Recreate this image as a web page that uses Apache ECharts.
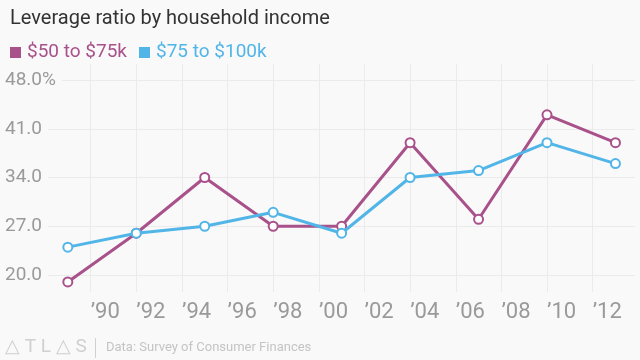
<!DOCTYPE html>
<html>
<head>
<meta charset="utf-8">
<script src="https://cdn.jsdelivr.net/npm/echarts@6/dist/echarts.min.js"></script>
<style>
  html, body { margin: 0; padding: 0; background: #f9f9f9; }
  #chart { width: 640px; height: 360px; }
</style>
</head>
<body>
<div id="chart"></div>
<script>
var years = [1989, 1992, 1995, 1998, 2001, 2004, 2007, 2010, 2013];
var series50to75 = [19, 26, 34, 27, 27, 39, 28, 43, 39];
var series75to100 = [24, 26, 27, 29, 26, 34, 35, 39, 36];
var seriesNames = ['$50 to $75k', '$75 to $100k'];
var yTicks = [20, 27, 34, 41, 48];
var yTickLabels = ['20.0', '27.0', '34.0', '41.0', '48.0%'];
var xTicks = [1990, 1992, 1994, 1996, 1998, 2000, 2002, 2004, 2006, 2008, 2010, 2012];
var xTickLabels = ['\u201990', '\u201992', '\u201994', '\u201996', '\u201998', '\u201900', '\u201902', '\u201904', '\u201906', '\u201908', '\u201910', '\u201912'];

var PURPLE = '#a8518a';
var BLUE = '#51b5e8';
var FONT = 'Roboto, "Noto Sans", sans-serif';

function pairs(ys) {
  return years.map(function (y, i) { return [y, ys[i]]; });
}

var chart = echarts.init(document.getElementById('chart'), null, { renderer: 'canvas' });
chart.setOption({
  backgroundColor: '#f9f9f9',
  animation: false,
  textStyle: { fontFamily: FONT },
  title: {
    text: 'Leverage ratio by household income',
    left: 5, top: 4,
    textStyle: { fontFamily: FONT, fontSize: 20, fontWeight: 'normal', color: '#333333' }
  },
  legend: {
    left: 5, top: 38,
    icon: 'rect', itemWidth: 11, itemHeight: 11, itemGap: 12,
    selectedMode: false,
    textStyle: { fontFamily: FONT, fontSize: 19, padding: [0, 0, 0, 1] },
    data: [
      { name: seriesNames[0], itemStyle: { color: PURPLE, borderWidth: 0 }, textStyle: { color: PURPLE } },
      { name: seriesNames[1], itemStyle: { color: BLUE, borderWidth: 0 }, textStyle: { color: BLUE } }
    ]
  },
  grid: [
    { left: 45, right: 5, top: 80, bottom: 85 },
    { left: 90.7, right: 47.3, top: 64, bottom: 68 }
  ],
  xAxis: [
    { type: 'value', gridIndex: 0, min: 1988, max: 2013.857, show: false },
    {
      type: 'value', gridIndex: 1, min: xTicks[0], max: xTicks[xTicks.length - 1], interval: 2,
      axisLine: { show: false }, axisTick: { show: false },
      splitLine: { show: true, lineStyle: { color: '#ebebeb', width: 1 } },
      axisLabel: {
        align: 'left', margin: 9, fontFamily: FONT, fontSize: 22, color: '#9a9a9a',
        formatter: function (v) { var i = xTicks.indexOf(v); return i >= 0 ? xTickLabels[i] : ''; }
      }
    }
  ],
  yAxis: [
    {
      type: 'value', gridIndex: 0, min: yTicks[0], max: yTicks[yTicks.length - 1], interval: 7,
      axisLine: { show: false }, axisTick: { show: false },
      splitLine: { show: true, lineStyle: { color: '#ebebeb', width: 1 } },
      axisLabel: {
        align: 'left', margin: 40, fontFamily: FONT, fontSize: 19, color: '#9a9a9a',
        backgroundColor: '#f9f9f9', padding: [2, 6, 2, 0],
        formatter: function (v) { var i = yTicks.indexOf(v); return i >= 0 ? yTickLabels[i] : ''; }
      },
      z: 3
    },
    { type: 'value', gridIndex: 1, show: false }
  ],
  series: [
    {
      name: seriesNames[0], type: 'line', xAxisIndex: 0, yAxisIndex: 0,
      data: pairs(series50to75), clip: false,
      symbol: 'emptyCircle', symbolSize: 9, showAllSymbol: true,
      lineStyle: { color: PURPLE, width: 3 },
      itemStyle: { color: PURPLE, borderWidth: 2 },
      z: 3
    },
    {
      name: seriesNames[1], type: 'line', xAxisIndex: 0, yAxisIndex: 0,
      data: pairs(series75to100), clip: false,
      symbol: 'emptyCircle', symbolSize: 9, showAllSymbol: true,
      lineStyle: { color: BLUE, width: 3 },
      itemStyle: { color: BLUE, borderWidth: 2 },
      z: 4
    }
  ],
  graphic: [
    {
      type: 'text', left: 5, top: 338,
      style: { text: '\u25B3 T L \u25B3 S', fontFamily: FONT, fontSize: 19, fill: '#d0d0d0' }
    },
    {
      type: 'line', shape: { x1: 95.5, y1: 338, x2: 95.5, y2: 358 },
      style: { stroke: '#d0d0d0', lineWidth: 1 }
    },
    {
      type: 'text', left: 106, top: 341,
      style: { text: 'Data: Survey of Consumer Finances', fontFamily: FONT, fontSize: 13, fill: '#c4c4c4' }
    }
  ]
});
</script>
</body>
</html>
